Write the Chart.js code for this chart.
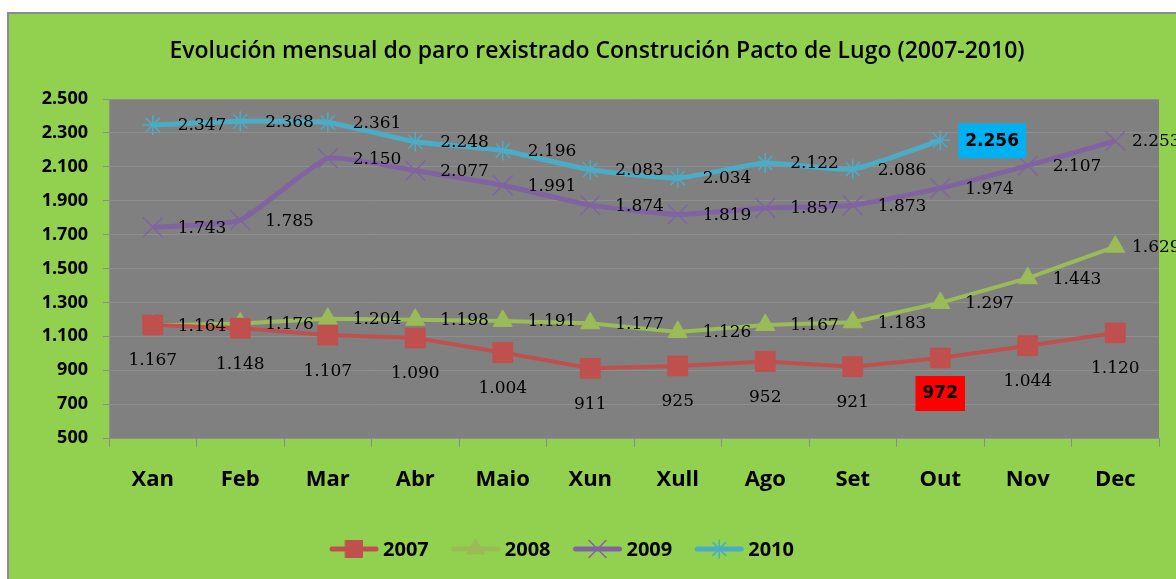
<!DOCTYPE html>
<html>
<head>
<meta charset="utf-8">
<script src="https://cdn.jsdelivr.net/npm/chart.js@4.4.1/dist/chart.umd.min.js"></script>
<style>
  html, body { margin: 0; padding: 0; background: #fff; overflow: hidden; }
  canvas { display: block; }
</style>
</head>
<body>
<canvas id="myChart" width="1176" height="579"></canvas>
<script>
//data
const chartTitle = "Evolución mensual do paro rexistrado Construción Pacto de Lugo (2007-2010)";
const months = ["Xan", "Feb", "Mar", "Abr", "Maio", "Xun", "Xull", "Ago", "Set", "Out", "Nov", "Dec"];
const paro2007 = [1167, 1148, 1107, 1090, 1004, 911, 925, 952, 921, 972, 1044, 1120];
const paro2008 = [1164, 1176, 1204, 1198, 1191, 1177, 1126, 1167, 1183, 1297, 1443, 1629];
const paro2009 = [1743, 1785, 2150, 2077, 1991, 1874, 1819, 1857, 1873, 1974, 2107, 2253];
const paro2010 = [2347, 2368, 2361, 2248, 2196, 2083, 2034, 2122, 2086, 2256];
const yTicks = [500, 700, 900, 1100, 1300, 1500, 1700, 1900, 2100, 2300, 2500];

// 1234 -> "1.234"
function fmt(v) {
  return String(v).replace(/\B(?=(\d{3})+(?!\d))/g, ".");
}

//plugins
const background = {
  id: "background",
  beforeDraw(chart) {
    const ctx = chart.ctx;
    const a = chart.chartArea;
    ctx.save();
    ctx.fillStyle = "#fff";
    ctx.fillRect(0, 0, chart.width, chart.height);
    ctx.fillStyle = "#92D050";
    ctx.fillRect(8, 13, chart.width, chart.height);
    ctx.strokeStyle = "#8c8c8c";
    ctx.lineWidth = 2;
    ctx.strokeRect(8, 13, chart.width + 20, chart.height + 20);
    ctx.fillStyle = "#808080";
    ctx.fillRect(a.left, a.top, a.right - a.left, a.bottom - a.top);
    ctx.restore();
  },
};

const pointLabels = {
  id: "pointLabels",
  afterDatasetsDraw(chart) {
    const ctx = chart.ctx;
    chart.data.datasets.forEach((ds, i) => {
      const meta = chart.getDatasetMeta(i);
      meta.data.forEach((pt, j) => {
        const txt = fmt(ds.data[j]);
        ctx.save();
        ctx.textBaseline = "middle";
        ctx.textAlign = "center";
        if (j === ds.boxIndex) {
          ctx.font = "bold 17px 'DejaVu Sans'";
          const w = ctx.measureText(txt).width;
          const cx = ds.labelPos === "right" ? pt.x + 18 + w / 2 + 7 : pt.x;
          const cy = ds.labelPos === "right" ? pt.y : pt.y + 35;
          ctx.fillStyle = ds.boxColor;
          ctx.fillRect(cx - w / 2 - 7, cy - 17, w + 14, 35);
          ctx.fillStyle = "#000";
          ctx.fillText(txt, cx, cy + 1);
        } else {
          ctx.font = "17px 'DejaVu Serif'";
          ctx.fillStyle = "#000";
          if (ds.labelPos === "right") {
            ctx.textAlign = "left";
            // keep the label from running too far past the plot
            const lx = Math.min(pt.x + 25, chart.width - 44);
            ctx.fillText(txt, lx, pt.y + 1);
          } else {
            ctx.fillText(txt, pt.x, pt.y + 36);
          }
        }
        ctx.restore();
      });
    });
  },
};

const titleAndLegend = {
  id: "titleAndLegend",
  afterDraw(chart) {
    const ctx = chart.ctx;
    ctx.save();
    ctx.fillStyle = "#000";
    ctx.textBaseline = "middle";
    ctx.textAlign = "center";
    ctx.font = "600 23px 'Open Sans'";
    ctx.fillText(chartTitle, 597, 51);

    // legend: line + marker + label
    ctx.font = "bold 20px 'Open Sans'";
    const lineW = 48, gap = 5, spacing = 23;
    const items = chart.data.datasets.map((ds) => ({ ds, w: lineW + gap + ctx.measureText(ds.label).width }));
    const total = items.reduce((s, it) => s + it.w, 0) + spacing * (items.length - 1);
    let x = 562 - total / 2;
    const y = 549;
    items.forEach((it) => {
      const ds = it.ds;
      ctx.strokeStyle = ds.borderColor;
      ctx.lineWidth = 5;
      ctx.lineCap = "round";
      ctx.beginPath();
      ctx.moveTo(x + 2, y);
      ctx.lineTo(x + lineW - 2, y);
      ctx.stroke();
      ctx.fillStyle = ds.pointBackgroundColor;
      ctx.strokeStyle = ds.pointBorderColor;
      ctx.lineWidth = ds.pointBorderWidth;
      Chart.helpers.drawPoint(ctx, { pointStyle: ds.pointStyle, rotation: 0, radius: ds.legendRadius, borderWidth: ds.pointBorderWidth }, x + lineW / 2, y);
      ctx.fillStyle = "#000";
      ctx.textAlign = "left";
      ctx.fillText(ds.label, x + lineW + gap, y + 1);
      x += it.w + spacing;
    });
    ctx.restore();
  },
};

//config
const config = {
  type: "line",
  data: {
    labels: months,
    datasets: [
      {
        label: "2007",
        data: paro2007,
        borderColor: "#C0504D",
        backgroundColor: "#C0504D",
        pointBackgroundColor: "#C0504D",
        pointBorderColor: "#C0504D",
        pointBorderWidth: 1,
        pointStyle: "rect",
        pointRadius: 14,
        legendRadius: 12,
        borderWidth: 4,
        tension: 0,
        labelPos: "below",
        boxIndex: 9,
        boxColor: "#FF0000",
      },
      {
        label: "2008",
        data: paro2008,
        borderColor: "#9BBB59",
        backgroundColor: "#9BBB59",
        pointBackgroundColor: "#9BBB59",
        pointBorderColor: "#9BBB59",
        pointBorderWidth: 1,
        pointStyle: "triangle",
        pointRadius: 11,
        legendRadius: 10,
        borderWidth: 4,
        tension: 0,
        labelPos: "right",
      },
      {
        label: "2009",
        data: paro2009,
        borderColor: "#8064A2",
        backgroundColor: "#8064A2",
        pointBackgroundColor: "#8064A2",
        pointBorderColor: "#8064A2",
        pointBorderWidth: 1.5,
        pointStyle: "crossRot",
        pointRadius: 14,
        legendRadius: 12,
        borderWidth: 5,
        tension: 0.15,
        labelPos: "right",
      },
      {
        label: "2010",
        data: paro2010,
        borderColor: "#4BACC6",
        backgroundColor: "#4BACC6",
        pointBackgroundColor: "#4BACC6",
        pointBorderColor: "#4BACC6",
        pointBorderWidth: 1.5,
        pointStyle: "star",
        pointRadius: 10,
        legendRadius: 9,
        borderWidth: 5,
        tension: 0.15,
        labelPos: "right",
        boxIndex: 9,
        boxColor: "#00B0F0",
      },
    ],
  },
  options: {
    responsive: false,
    animation: false,
    layout: {
      padding: { top: 99, right: 17, bottom: 81, left: 0 },
    },
    plugins: {
      legend: { display: false },
      title: { display: false },
      tooltip: { enabled: false },
    },
    scales: {
      x: {
        offset: true,
        afterFit: (scale) => { scale.height = 60; },
        grid: {
          offset: true,
          drawOnChartArea: false,
          tickLength: 9,
          color: "#8c8c8c",
          tickColor: "#8c8c8c",
        },
        border: { display: false },
        ticks: {
          color: "#000",
          padding: 20,
          font: { family: "Open Sans", size: 22, weight: "bold" },
        },
      },
      y: {
        min: 500,
        max: 2500,
        afterFit: (scale) => { scale.width = 109; },
        afterBuildTicks: (scale) => { scale.ticks = yTicks.map((v) => ({ value: v })); },
        grid: {
          color: "#8f8f8f",
          tickColor: "#8c8c8c",
          tickLength: 6,
        },
        border: { color: "#8f8f8f" },
        ticks: {
          color: "#000",
          padding: 15,
          font: { family: "Open Sans", size: 18, weight: "bold" },
          callback: (v) => fmt(v),
        },
      },
    },
  },
  plugins: [background, pointLabels, titleAndLegend],
};

//chart
const myChart = new Chart(document.getElementById("myChart"), config);
</script>
</body>
</html>
